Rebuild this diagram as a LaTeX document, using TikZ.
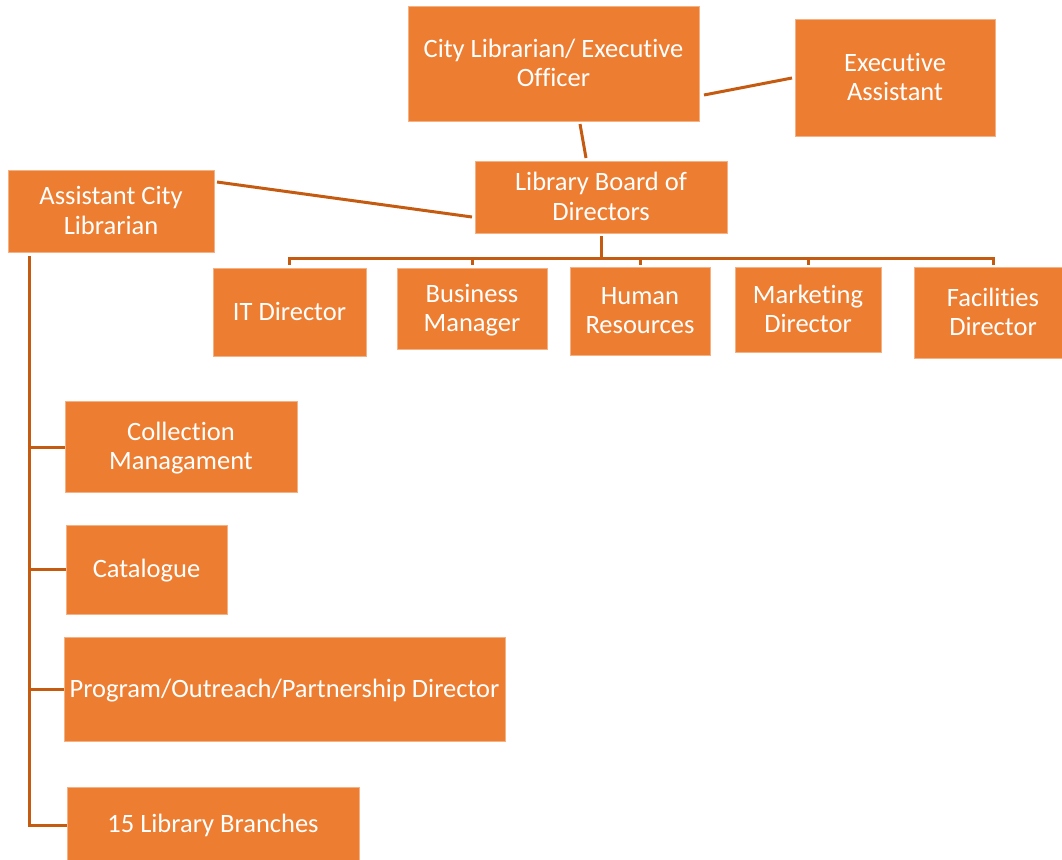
\documentclass[tikz,border=0pt]{standalone}
\usepackage{fontspec}
\setmainfont{Carlito}[Ligatures=NoCommon]
\definecolor{boxfill}{HTML}{ED7D31}
\definecolor{linecol}{HTML}{C55A11}
\begin{document}
\begin{tikzpicture}[x=1pt,y=-1pt,
  box/.style={fill=boxfill, draw=boxfill!60!white, line width=0.6pt, text=white, align=center,
    font=\fontsize{26.5}{29.5}\selectfont, inner sep=0pt, text depth=1.5pt},
  conn/.style={draw=linecol, line width=3pt}]
\useasboundingbox (0,0) rectangle (1062,859);
\newcommand{\bx}[6]{\node[box, minimum width=#4-#2, minimum height=#5-#3] (#1) at ({(#2+#4)/2},{(#3+#5)/2}) {#6};}
\bx{cl}{408}{6}{699}{121}{City Librarian/ Executive\\Officer}
\bx{ea}{795}{19}{995}{136}{Executive\\Assistant}
\bx{lb}{475}{161}{727}{233}{Library Board of\\Directors}
\bx{acl}{8}{170}{214}{252}{Assistant City\\Librarian}
\bx{it}{213}{268}{366}{356}{IT Director}
\bx{bm}{397}{268}{547}{349}{Business\\Manager}
\bx{hr}{570}{267}{710}{355}{Human\\Resources}
\bx{md}{735}{267}{881}{352}{Marketing\\Director}
\bx{fd}{914}{267}{1062}{358}{\hspace*{10pt}Facilities\\\hspace*{10pt}Director}
\bx{cm}{65}{401}{297}{492}{Collection\\Managament}
\bx{cat}{66}{525}{227}{614}{Catalogue}
\bx{pop}{64}{637}{505}{741}{Program/Outreach/Partnership Director}
\bx{lib}{67}{787}{359}{862}{15 Library Branches}
% top connectors
\coordinate (clb) at (580,124);
\coordinate (lbt) at (586,158);
\draw[conn] (clb) -- (lbt);
\coordinate (cle) at (704,95);
\coordinate (eal) at (792,78);
\draw[conn] (cle) -- (eal);
\coordinate (aclr) at (217,182);
\coordinate (lbl) at (472,217);
\draw[conn] (aclr) -- (lbl);
% board tree
\coordinate (bus) at (601,258);
\draw[conn] (lb.south -| bus) ++(0,3) -- (bus);
\draw[conn] (289,258) -- (993,258);
\foreach \n/\xx in {it/289, bm/472, hr/640, md/808, fd/993}
  \draw[conn] (\xx,257) -- (\xx,265);
% assistant tree
\coordinate (spine) at (29,256);
\coordinate (spineend) at (29,825);
\draw[conn] (spine) -- (spineend) -- (lib.west |- spineend);
\draw[conn] (29,447) -- (cm.west |- 0,447);
\draw[conn] (29,569) -- (cat.west |- 0,569);
\draw[conn] (29,689) -- (pop.west |- 0,689);
\end{tikzpicture}
\end{document}
